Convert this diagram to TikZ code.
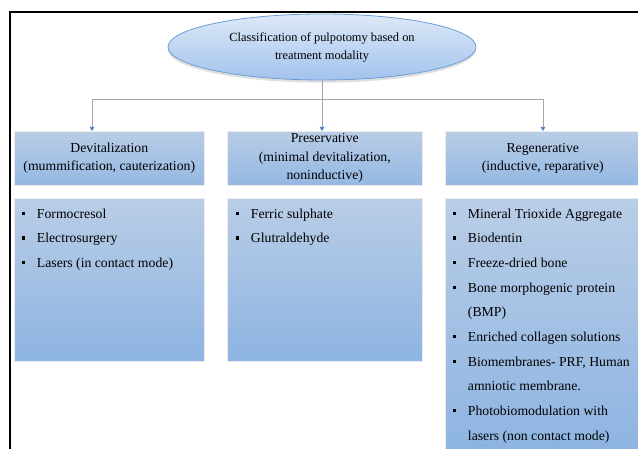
\documentclass[tikz,border=0pt]{standalone}
\usepackage{fontspec}
\setmainfont{Liberation Serif}
\usetikzlibrary{shapes.geometric,shadows,arrows.meta}
\definecolor{boxtop}{HTML}{B9CDE6}
\definecolor{boxbot}{HTML}{8DB4E2}
\definecolor{headbot}{HTML}{94B8E3}
\definecolor{elltop}{HTML}{DDE9F8}
\definecolor{ellbot}{HTML}{A3C3EC}
\definecolor{ellline}{HTML}{6E9DD6}
\definecolor{tipblue}{HTML}{4F81BD}
\definecolor{linkgray}{HTML}{A5A5A5}
\newcommand{\sqbul}{\rule[2.2pt]{2.4pt}{2.6pt}}
\newcommand{\itemlist}[1]{\begin{tabular}[t]{@{}l@{\hspace{8.6pt}}l@{}}#1\end{tabular}}
\begin{document}
\begin{tikzpicture}[x=0.75pt, y=-0.75pt,
    every node/.style={inner sep=0pt},
    rootell/.style={ellipse, draw=ellline, line width=0.6pt, top color=elltop, bottom color=ellbot,
        minimum width=231pt, minimum height=49.5pt, align=center,
        font=\fontsize{9.3}{13.5}\selectfont,
        drop shadow={opacity=0.25, shadow xshift=0pt, shadow yshift=-2pt}},
    catbox/.style={rectangle, draw=white!85!gray, line width=0.4pt, top color=boxtop, bottom color=boxbot, anchor=north west},
    head/.style={catbox, bottom color=headbot, minimum height=40.5pt, align=center, font=\fontsize{10.3}{13.8}\selectfont},
    listtext/.style={anchor=base west, font=\fontsize{10.3}{18.5}\selectfont},
    link/.style={draw=linkgray, line width=0.5pt},
    arr/.style={link, -{Triangle[width=3.4pt,length=3pt,color=tipblue,fill=tipblue]}}
]
    \useasboundingbox (0,0) rectangle (638,449);

    % Frame
    \draw[line width=0.8pt] (10,452) -- (10,12) -- (640,12);

    % Root
    \node[rootell] (root) at (322,47) {Classification of pulpotomy based on\\treatment modality};

    % Headers
    \node[head, minimum width=142.5pt] (dev) at (14,131) {Devitalization\\(mummification, cauterization)};
    \node[head, minimum width=146.25pt] (pres) at (227,131) {Preservative\\(minimal devitalization,\\noninductive)};
    \node[head, minimum width=146.25pt] (regen) at (445,131) {Regenerative\\(inductive, reparative)};

    % Lists
    \node[catbox, minimum width=142.5pt, minimum height=122.25pt] (devbox) at (14,198) {};
    \node[catbox, minimum width=146.25pt, minimum height=122.25pt] (presbox) at (227,198) {};
    \node[catbox, minimum width=146.25pt, minimum height=190.5pt] (regenbox) at (445,198) {};

    \node[listtext] (devitems) at (22,218) {\itemlist{%
        \sqbul & Formocresol\\
        \sqbul & Electrosurgery\\
        \sqbul & Lasers (in contact mode)}};
    \node[listtext] (presitems) at (236,218) {\itemlist{%
        \sqbul & Ferric sulphate\\
        \sqbul & Glutraldehyde}};
    \node[listtext] (regenitems) at (453,218) {\itemlist{%
        \sqbul & Mineral Trioxide Aggregate\\
        \sqbul & Biodentin\\
        \sqbul & Freeze-dried bone\\
        \sqbul & Bone morphogenic protein\\
               & (BMP)\\
        \sqbul & Enriched collagen solutions\\
        \sqbul & Biomembranes- PRF, Human\\
               & amniotic membrane.\\
        \sqbul & Photobiomodulation with\\
               & lasers (non contact mode)}};

    % Connectors
    \coordinate (hub) at (322,99);
    \coordinate (hubL) at (92,99);
    \coordinate (hubR) at (543,99);
    \draw[link] (root) -- (hub);
    \draw[link] (hubL) -- (hubR);
    \draw[arr] (hubL) -- (hubL |- dev.north);
    \draw[arr] (hub) -- (hub |- pres.north);
    \draw[arr] (hubR) -- (hubR |- regen.north);
\end{tikzpicture}
\end{document}
